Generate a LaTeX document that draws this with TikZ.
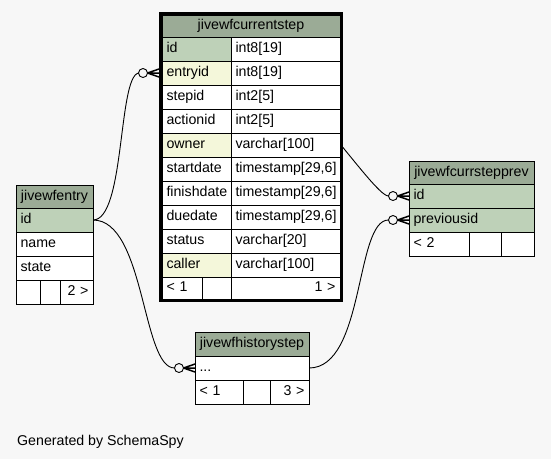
\documentclass[tikz,border=0pt]{standalone}
\usepackage{fontspec}
\setmainfont{Liberation Sans}
\usetikzlibrary{calc,backgrounds}
\definecolor{bgc}{HTML}{F7F7F7}
\definecolor{hdr}{HTML}{9BAB96}
\definecolor{pkc}{HTML}{BED1B8}
\definecolor{idx}{HTML}{F4F7DA}
\tikzset{
  cell/.style={draw=black, line width=1pt, inner xsep=4.5pt, inner ysep=0pt, outer sep=0pt,
    anchor=north west, text height=10.3pt, text depth=3pt, font=\fontsize{14.2}{16}\selectfont},
  conn/.style={draw=black, line width=0.9pt},
  crowline/.style={draw=black, line width=1.5pt},
  thickborder/.style={draw=black, line width=3pt},
}
% name x y w h fill align text
\newcommand{\tcell}[8]{%
  \pgfmathsetmacro{\tw}{#4-9}%
  \node[cell, fill=#6, minimum height=#5pt, text width=\tw pt, align=#7] (#1) at (#2,#3) {#8};}
\newcommand{\crowfoot}[1]{%
  \draw[conn, fill=bgc] ($(#1)+(-16,0)$) circle (4.5);
  \draw[crowline] ($(#1)+(-11.5,0)$) -- ($(#1)+(0,-4)$)
                  ($(#1)+(-11.5,0)$) -- (#1)
                  ($(#1)+(-11.5,0)$) -- ($(#1)+(0,4)$);}
\begin{document}
\begin{tikzpicture}[x=1pt,y=-1pt]
\useasboundingbox (0,0) rectangle (551,459);
% ---- jivewfcurrentstep ----
\tcell{cs-h}{162}{15}{178}{22}{hdr}{center}{jivewfcurrentstep}
\tcell{cs-id}{162}{37}{69}{24}{pkc}{left}{id}
\tcell{cs-idt}{231}{37}{109}{24}{white}{left}{int8[19]}
\tcell{cs-entryid}{162}{61}{69}{24}{idx}{left}{entryid}
\tcell{cs-entryidt}{231}{61}{109}{24}{white}{left}{int8[19]}
\tcell{cs-stepid}{162}{85}{69}{24}{white}{left}{stepid}
\tcell{cs-stepidt}{231}{85}{109}{24}{white}{left}{int2[5]}
\tcell{cs-actionid}{162}{109}{69}{24}{white}{left}{actionid}
\tcell{cs-actionidt}{231}{109}{109}{24}{white}{left}{int2[5]}
\tcell{cs-owner}{162}{133}{69}{24}{idx}{left}{owner}
\tcell{cs-ownert}{231}{133}{109}{24}{white}{left}{varchar[100]}
\tcell{cs-startdate}{162}{157}{69}{24}{white}{left}{startdate}
\tcell{cs-startdatet}{231}{157}{109}{24}{white}{left}{timestamp[29,6]}
\tcell{cs-finishdate}{162}{181}{69}{24}{white}{left}{finishdate}
\tcell{cs-finishdatet}{231}{181}{109}{24}{white}{left}{timestamp[29,6]}
\tcell{cs-duedate}{162}{205}{69}{24}{white}{left}{duedate}
\tcell{cs-duedatet}{231}{205}{109}{24}{white}{left}{timestamp[29,6]}
\tcell{cs-status}{162}{229}{69}{24}{white}{left}{status}
\tcell{cs-statust}{231}{229}{109}{24}{white}{left}{varchar[20]}
\tcell{cs-caller}{162}{253}{69}{24}{idx}{left}{caller}
\tcell{cs-callert}{231}{253}{109}{24}{white}{left}{varchar[100]}
\tcell{cs-f1}{162}{277}{40}{22}{white}{left}{< 1}
\tcell{cs-f2}{202}{277}{29}{22}{white}{left}{}
\tcell{cs-f3}{231}{277}{109}{22}{white}{right}{1 >}
\draw[thickborder] (160.5,13.5) rectangle (341.5,300.5);
% ---- jivewfentry ----
\tcell{en-h}{16}{185}{77}{23}{hdr}{center}{jivewfentry}
\tcell{en-id}{16}{208}{77}{24}{pkc}{left}{id}
\tcell{en-name}{16}{232}{77}{24}{white}{left}{name}
\tcell{en-state}{16}{256}{77}{24}{white}{left}{state}
\tcell{en-f1}{16}{280}{24}{24}{white}{left}{}
\tcell{en-f2}{40}{280}{20}{24}{white}{left}{}
\tcell{en-f3}{60}{280}{33}{24}{white}{right}{2 >}
% ---- jivewfcurrstepprev ----
\tcell{pv-h}{409}{161}{125}{23}{hdr}{center}{jivewfcurrstepprev}
\tcell{pv-id}{409}{184}{125}{24}{pkc}{left}{id}
\tcell{pv-previousid}{409}{208}{125}{24}{pkc}{left}{previousid}
\tcell{pv-f1}{409}{232}{60}{24}{white}{left}{< 2}
\tcell{pv-f2}{469}{232}{32}{24}{white}{left}{}
\tcell{pv-f3}{501}{232}{33}{24}{white}{right}{}
% ---- jivewfhistorystep ----
\tcell{hs-h}{195}{332}{114}{24}{hdr}{center}{jivewfhistorystep}
\tcell{hs-dots}{195}{356}{114}{24}{white}{left}{...}
\tcell{hs-f1}{195}{380}{48}{24}{white}{left}{< 1}
\tcell{hs-f2}{243}{380}{27}{24}{white}{left}{}
\tcell{hs-f3}{270}{380}{39}{24}{white}{right}{3 >}
% ---- footer text ----
\node[anchor=base west, inner sep=0pt, font=\fontsize{14.2}{16}\selectfont] (gen) at (17,445) {Generated by SchemaSpy};
% ---- connectors ----
\coordinate (t1) at ($(cs-entryid.west)+(-3,0)$);
\coordinate (t2) at (pv-id.west);
\coordinate (t3) at (hs-dots.west);
\coordinate (t4) at (pv-previousid.west);
\begin{scope}[on background layer]
\fill[bgc] (0,0) rectangle (551,459);
\draw[conn] (en-id.east) .. controls +(32,0) and +(-20.5,4) .. ($(t1)+(-20.5,0)$);
\draw[conn] (cs-id.east) .. controls +(50,0) and +(-16.5,0) .. ($(t2)+(-20.5,0)$);
\draw[conn] (en-id.east) .. controls +(52,0) and +(-32.5,0) .. ($(t3)+(-20.5,0)$);
\draw[conn] (hs-dots.east) .. controls +(56,0) and +(-33.5,0) .. ($(t4)+(-20.5,0)$);
\crowfoot{t1}
\crowfoot{t2}
\crowfoot{t3}
\crowfoot{t4}
\end{scope}
\end{tikzpicture}
\end{document}
